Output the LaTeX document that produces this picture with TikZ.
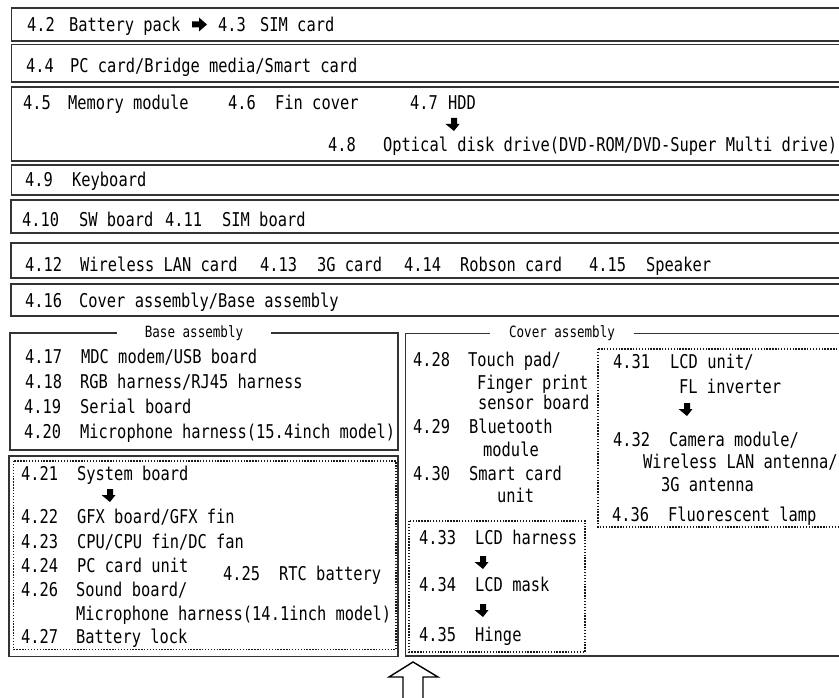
\documentclass[tikz,border=0pt]{standalone}
\usepackage{fontspec}
\newfontfamily\gothic[FakeStretch=0.81]{DejaVu Sans Mono}
\newcommand\itm[3]{\makebox[#2pt][l]{#1}#3}
\newcommand\dnarrow[1]{\fill[blk] ($(#1)+(-3,0)$) -- ++(6,0) -- ++(0,6) -- ++(2.5,0) -- ($(#1)+(0,13)$) -- ($(#1)+(-8.5,6)$) -- ++(5.5,0) -- cycle;}
\usetikzlibrary{calc}
\begin{document}
\begin{tikzpicture}[x=1pt,y=-1pt,
  box/.style={draw=black!80,line width=1.4pt},
  dotbox/.style={draw=black!90,line width=1.4pt,dash pattern=on 1.4pt off 1.5pt},
  txt/.style={anchor=base west,inner sep=0pt,font=\gothic\fontsize{19}{21}\selectfont},
  title/.style={fill=white,inner ysep=2pt,font=\gothic\fontsize{15.5}{17}\selectfont},
  blk/.style={fill=black}]
\useasboundingbox (0,0) rectangle (839,698);
\clip (0,0) rectangle (839,698);
\fill[white] (0,0) rectangle (839,698);

% ---- top rows ----
\draw[box] (11.5,8) rectangle (850,41);
\draw[box] (11.5,44.5) rectangle (850,82);
\draw[box] (11.5,87) rectangle (850,161);
\draw[box] (11.5,165) rectangle (850,195);
\draw[box] (11,200) rectangle (850,233);
\draw[box] (11,243) rectangle (850,278);
\draw[box] (11,284) rectangle (850,316);

\node[txt] (t42) at (27,32) {\itm{4.2}{42}{Battery pack}};
\coordinate (ra) at (192,24.5);
\fill[blk] ($(ra)+(0,-3)$) -- ++(7,0) -- ++(0,-4) -- ($(ra)+(15,0)$) -- ($(ra)+(7,7)$) -- ++(0,-4) -- ($(ra)+(0,3)$) -- cycle;
\node[txt] (t43) at (218,32) {\itm{4.3}{42}{SIM card}};

\node[txt] (t44) at (26,73) {\itm{4.4}{44}{PC card/Bridge media/Smart card}};

\node[txt] (t45) at (23,110) {\itm{4.5}{45}{Memory module}};
\node[txt] (t46) at (228,110) {\itm{4.6}{47}{Fin cover}};
\node[txt] (t47) at (410,110) {\itm{4.7}{38}{HDD}};
\coordinate (a47) at (454,118);
\dnarrow{a47}
\node[txt] (t48) at (328,152) {\itm{4.8}{55}{Optical disk drive(DVD-ROM/DVD-Super Multi drive)}};

\node[txt] (t49) at (25,187) {\itm{4.9}{47}{Keyboard}};
\node[txt] (t410) at (22,227) {\itm{4.10}{57}{SW board}};
\node[txt] (t411) at (165,227) {\itm{4.11}{57}{SIM board}};

\node[txt] (t412) at (25,271) {\itm{4.12}{55}{Wireless LAN card}};
\node[txt] (t413) at (260,271) {\itm{4.13}{57}{3G card}};
\node[txt] (t414) at (404,271) {\itm{4.14}{56}{Robson card}};
\node[txt] (t415) at (589,271) {\itm{4.15}{57}{Speaker}};

\node[txt] (t416) at (25,307) {\itm{4.16}{54}{Cover assembly/Base assembly}};

% ---- base assembly ----
\draw[box] (10,333) rectangle (398,450);
\node[title,inner xsep=28pt] (basetitle) at (194,333) {Base assembly};
\node[txt] (t417) at (25,363) {\itm{4.17}{56}{MDC modem/USB board}};
\node[txt] (t418) at (25,388) {\itm{4.18}{55}{RGB harness/RJ45 harness}};
\node[txt] (t419) at (24,413) {\itm{4.19}{56}{Serial board}};
\node[txt] (t420) at (24,438) {\itm{4.20}{56}{Microphone harness(15.4inch model)}};

\draw[box] (9,456) rectangle (398,656.5);
\draw[dotbox] (13.5,461) rectangle (396,649.5);
\node[txt] (t421) at (21,480) {\itm{4.21}{56}{System board}};
\coordinate (a421) at (110,489);
\dnarrow{a421}
\node[txt] (t422) at (21,523) {\itm{4.22}{56}{GFX board/GFX fin}};
\node[txt] (t423) at (21,548) {\itm{4.23}{56}{CPU/CPU fin/DC fan}};
\node[txt] (t424) at (21,572) {\itm{4.24}{56}{PC card unit}};
\node[txt] (t425) at (223,580) {\itm{4.25}{56}{RTC battery}};
\node[txt] (t426) at (21,596) {\itm{4.26}{55}{Sound board/}};
\node[txt] (t426b) at (76,620) {Microphone harness(14.1inch model)};
\node[txt] (t427) at (21,643) {\itm{4.27}{55}{Battery lock}};

% ---- cover assembly ----
\draw[box] (405.5,333.5) rectangle (850,656);
\node[title,inner xsep=19pt] (covertitle) at (562,333.5) {Cover assembly};
\node[txt] (t428) at (413,366) {\itm{4.28}{55}{Touch pad/}};
\node[txt] (t428b) at (477,389) {Finger print};
\node[txt] (t428c) at (478,409) {sensor board};
\node[txt] (t429) at (413,433) {\itm{4.29}{56}{Bluetooth}};
\node[txt] (t429b) at (483,456) {module};
\node[txt] (t430) at (413,480) {\itm{4.30}{56}{Smart card}};
\node[txt] (t430b) at (497,502) {unit};

\draw[dotbox] (598,349) rectangle (850,527);
\node[txt] (t431) at (613,368) {\itm{4.31}{57}{LCD unit/}};
\node[txt] (t431b) at (679,393) {FL inverter};
\coordinate (a431) at (687,403);
\dnarrow{a431}
\node[txt] (t432) at (613,446) {\itm{4.32}{56}{Camera module/}};
\node[txt] (t432b) at (643,468) {Wireless LAN antenna/};
\node[txt] (t432c) at (661,491) {3G antenna};
\node[txt] (t436) at (612,521) {\itm{4.36}{56}{Fluorescent lamp}};

\draw[dotbox] (409,521) rectangle (585,652);
\node[txt] (t433) at (419,544) {\itm{4.33}{56}{LCD harness}};
\coordinate (a433) at (483,556);
\dnarrow{a433}
\node[txt] (t434) at (419,591) {\itm{4.34}{56}{LCD mask}};
\coordinate (a434) at (483,604);
\dnarrow{a434}
\node[txt] (t435) at (419,641) {\itm{4.35}{56}{Hinge}};

% ---- hollow arrow ----
\coordinate (up) at (413,662);
\draw[draw=black,line width=1.4pt,fill=white,line join=miter]
  (up) -- ($(up)+(25,15)$) -- ($(up)+(10,15)$) -- ($(up)+(10,40)$)
  -- ($(up)+(-10,40)$) -- ($(up)+(-10,15)$) -- ($(up)+(-24,15)$) -- cycle;
\end{tikzpicture}
\end{document}
